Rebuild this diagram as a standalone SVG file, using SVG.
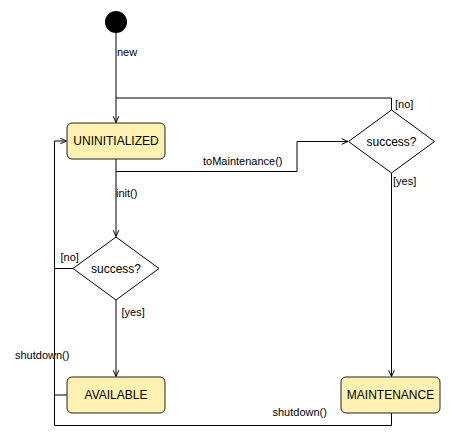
<svg xmlns="http://www.w3.org/2000/svg" width="452" height="436" viewBox="0 0 452 436">
<defs>
<style>
.st{fill:#fff2b0;stroke:#222;stroke-width:1}
.dm{fill:#fff;stroke:#000;stroke-width:1}
.ln{fill:none;stroke:#000;stroke-width:1}
.nt{font-family:"Liberation Sans",Arial,sans-serif;font-size:12px;fill:#000;text-anchor:middle;dominant-baseline:central}
.lb{font-family:"Liberation Sans",Arial,sans-serif;font-size:11px;fill:#000}
</style>
<marker id="arr" viewBox="0 0 10 10" refX="10" refY="5" markerWidth="7" markerHeight="7" orient="auto" markerUnits="userSpaceOnUse">
<path d="M1,1 L10,5 L1,9" fill="none" stroke="#000" stroke-width="1.4"/>
</marker>
</defs>
<rect width="452" height="436" fill="#fff"/>
<g id="connectors">
<path class="ln" d="M116,33 V122.5" marker-end="url(#arr)"/>
<path class="ln" d="M391.5,110 V98 H116"/>
<path class="ln" d="M116,159 V236.5" marker-end="url(#arr)"/>
<path class="ln" d="M116,171.5 H297 V141.5 H348" marker-end="url(#arr)"/>
<path class="ln" d="M116,300 V376.5" marker-end="url(#arr)"/>
<path class="ln" d="M391.5,173 V376.5" marker-end="url(#arr)"/>
<path class="ln" d="M73,268.5 H54.5"/>
<path class="ln" d="M67,395 H54.5"/>
<path class="ln" d="M391.5,413 V425.5 H54.5 V141 H66.5" marker-end="url(#arr)"/>
<text class="lb" x="117" y="56">new</text>
<text class="lb" x="395" y="108">[no]</text>
<text class="lb" x="203" y="165">toMaintenance()</text>
<text class="lb" x="116" y="197">init()</text>
<text class="lb" x="393" y="184.5">[yes]</text>
<text class="lb" x="60.5" y="261">[no]</text>
<text class="lb" x="121.5" y="316">[yes]</text>
<text class="lb" x="15" y="358.5">shutdown()</text>
<text class="lb" x="272.5" y="416">shutdown()</text>
</g>
<g id="start"><circle cx="116" cy="22" r="11" fill="#000"/></g>
<g id="uninitialized"><rect class="st" x="67" y="123" width="98" height="36" rx="5"/><text class="nt" x="116" y="141">UNINITIALIZED</text></g>
<g id="decision1"><path class="dm" d="M116,237 L159,268.5 L116,300 L73,268.5 Z"/><text class="nt" x="116" y="268.5">success?</text></g>
<g id="decision2"><path class="dm" d="M391.5,110 L434.5,141.5 L391.5,173 L348.5,141.5 Z"/><text class="nt" x="391.5" y="141.5">success?</text></g>
<g id="available"><rect class="st" x="67" y="377" width="98" height="36" rx="5"/><text class="nt" x="116" y="395">AVAILABLE</text></g>
<g id="maintenance"><rect class="st" x="341" y="377" width="99" height="36" rx="5"/><text class="nt" x="390.5" y="395">MAINTENANCE</text></g>
</svg>
